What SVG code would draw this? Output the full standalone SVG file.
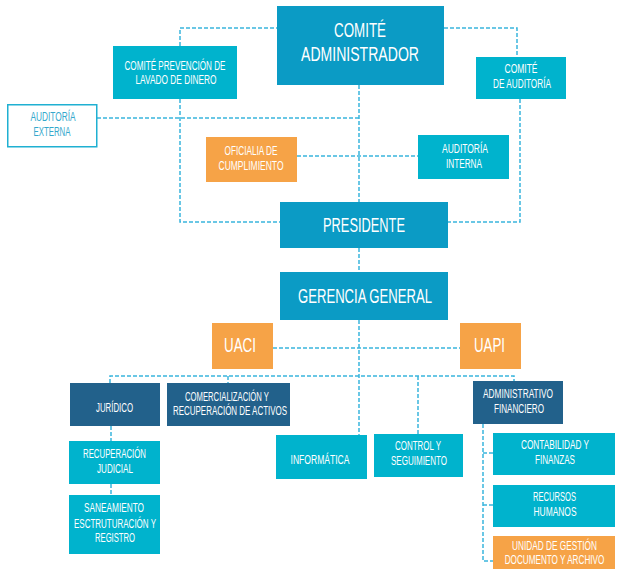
<svg xmlns="http://www.w3.org/2000/svg" width="620" height="570" viewBox="0 0 620 570">
<style>
text{font-family:"Liberation Sans",Arial,sans-serif;fill:#fff;text-anchor:middle;}
.s{font-size:12px;}
.b{font-size:20px;}
.main{fill:#0b9bc5;}
.teal{fill:#00b3cd;}
.org{fill:#f6a347;}
.dark{fill:#22618b;}
.c{fill:none;stroke:#3ab5dd;stroke-width:1.5;stroke-dasharray:4 2;}
</style>
<rect width="620" height="570" fill="#fff"/>
<g id="connectors">
<path class="c" d="M180 46V28H277"/>
<path class="c" d="M444 28H517V57"/>
<path class="c" d="M180 99V222H280"/>
<path class="c" d="M520 99V222H448"/>
<path class="c" d="M97 118H359"/>
<path class="c" d="M297 156H418"/>
<path class="c" d="M359 85V202M359 248V272M359 320V435"/>
<path class="c" d="M273 348H460"/>
<path class="c" d="M110 383V376H514V381"/>
<path class="c" d="M228 376V383M418 376V434"/>
<path class="c" d="M111 426V441M111 484V495"/>
<path class="c" d="M483 424V561H493M483 453H493M483 505H493"/>
</g>
<g id="comite-administrador"><rect class="main" x="277" y="6" width="167" height="79"/>
<text class="b" x="360" y="37" textLength="52" lengthAdjust="spacingAndGlyphs">COMITÉ</text>
<text class="b" x="360" y="61" textLength="118" lengthAdjust="spacingAndGlyphs">ADMINISTRADOR</text></g>
<g id="comite-prevencion"><rect class="teal" x="113" y="46" width="124" height="53"/>
<text class="s" x="175" y="70" textLength="101" lengthAdjust="spacingAndGlyphs">COMITÉ PREVENCIÓN DE</text>
<text class="s" x="176" y="84" textLength="81" lengthAdjust="spacingAndGlyphs">LAVADO DE DINERO</text></g>
<g id="comite-auditoria"><rect class="teal" x="476" y="57" width="90" height="42"/>
<text class="s" x="521" y="73" textLength="33" lengthAdjust="spacingAndGlyphs">COMITÉ</text>
<text class="s" x="522" y="88" textLength="58" lengthAdjust="spacingAndGlyphs">DE AUDITORÍA</text></g>
<g id="auditoria-externa"><rect x="7.75" y="104.75" width="89" height="42" fill="#fff" stroke="#1fb0d2" stroke-width="1.5"/>
<text class="s" x="53" y="121" textLength="45" lengthAdjust="spacingAndGlyphs" style="fill:#35a8cc">AUDITORÍA</text>
<text class="s" x="52" y="136" textLength="37" lengthAdjust="spacingAndGlyphs" style="fill:#35a8cc">EXTERNA</text></g>
<g id="oficialia"><rect class="org" x="206" y="137" width="91" height="45"/>
<text class="s" x="251" y="155" textLength="53" lengthAdjust="spacingAndGlyphs">OFICIALIA DE</text>
<text class="s" x="251" y="170" textLength="65" lengthAdjust="spacingAndGlyphs">CUMPLIMIENTO</text></g>
<g id="auditoria-interna"><rect class="teal" x="418" y="135" width="91" height="44"/>
<text class="s" x="465" y="153" textLength="46" lengthAdjust="spacingAndGlyphs">AUDITORÍA</text>
<text class="s" x="464" y="168" textLength="36" lengthAdjust="spacingAndGlyphs">INTERNA</text></g>
<g id="presidente"><rect class="main" x="280" y="202" width="168" height="46"/>
<text class="b" x="364" y="232" textLength="82" lengthAdjust="spacingAndGlyphs">PRESIDENTE</text></g>
<g id="gerencia-general"><rect class="main" x="280" y="272" width="168" height="48"/>
<text class="b" x="365" y="303" textLength="134" lengthAdjust="spacingAndGlyphs">GERENCIA GENERAL</text></g>
<g id="uaci"><rect class="org" x="212" y="323" width="61" height="46"/>
<text class="b" x="240" y="352" textLength="32" lengthAdjust="spacingAndGlyphs">UACI</text></g>
<g id="uapi"><rect class="org" x="460" y="323" width="61" height="46"/>
<text class="b" x="489.5" y="352" textLength="31" lengthAdjust="spacingAndGlyphs">UAPI</text></g>
<g id="juridico"><rect class="dark" x="70" y="383" width="90" height="43"/>
<text class="s" x="114.5" y="412" textLength="37" lengthAdjust="spacingAndGlyphs">JURÍDICO</text></g>
<g id="comercializacion"><rect class="dark" x="167" y="383" width="123" height="43"/>
<text class="s" x="227" y="401" textLength="84" lengthAdjust="spacingAndGlyphs">COMERCIALIZACIÓN Y</text>
<text class="s" x="230" y="415" textLength="114" lengthAdjust="spacingAndGlyphs">RECUPERACIÓN DE ACTIVOS</text></g>
<g id="administrativo-financiero"><rect class="dark" x="473" y="381" width="90" height="43"/>
<text class="s" x="518" y="398" textLength="70" lengthAdjust="spacingAndGlyphs">ADMINISTRATIVO</text>
<text class="s" x="519" y="413" textLength="50" lengthAdjust="spacingAndGlyphs">FINANCIERO</text></g>
<g id="recuperacion-judicial"><rect class="teal" x="69" y="441" width="91" height="43"/>
<text class="s" x="114.5" y="458" textLength="63" lengthAdjust="spacingAndGlyphs">RECUPERACIÓN</text>
<text class="s" x="115" y="473" textLength="36" lengthAdjust="spacingAndGlyphs">JUDICIAL</text></g>
<g id="saneamiento"><rect class="teal" x="69" y="495" width="91" height="59"/>
<text class="s" x="114" y="512" textLength="60" lengthAdjust="spacingAndGlyphs">SANEAMIENTO</text>
<text class="s" x="115" y="528" textLength="82" lengthAdjust="spacingAndGlyphs">ESCTRUTURACIÓN Y</text>
<text class="s" x="115" y="542" textLength="40" lengthAdjust="spacingAndGlyphs">REGISTRO</text></g>
<g id="informatica"><rect class="teal" x="276" y="435" width="91" height="44"/>
<text class="s" x="320" y="464" textLength="59" lengthAdjust="spacingAndGlyphs">INFORMÁTICA</text></g>
<g id="control-seguimiento"><rect class="teal" x="374" y="434" width="89" height="43"/>
<text class="s" x="418" y="450" textLength="46" lengthAdjust="spacingAndGlyphs">CONTROL Y</text>
<text class="s" x="419" y="465" textLength="56" lengthAdjust="spacingAndGlyphs">SEGUIMIENTO</text></g>
<g id="contabilidad"><rect class="teal" x="493" y="433" width="122" height="42"/>
<text class="s" x="555" y="449" textLength="68" lengthAdjust="spacingAndGlyphs">CONTABILIDAD Y</text>
<text class="s" x="555" y="464" textLength="40" lengthAdjust="spacingAndGlyphs">FINANZAS</text></g>
<g id="recursos-humanos"><rect class="teal" x="493" y="485" width="122" height="42"/>
<text class="s" x="554.5" y="501" textLength="43" lengthAdjust="spacingAndGlyphs">RECURSOS</text>
<text class="s" x="555" y="516" textLength="43" lengthAdjust="spacingAndGlyphs">HUMANOS</text></g>
<g id="unidad-gestion"><rect class="org" x="493" y="536" width="122" height="33"/>
<text class="s" transform="translate(554.5 550) scale(0.69 1)">UNIDAD DE GESTIÓN</text>
<text class="s" transform="translate(554.5 564) scale(0.68 1)">DOCUMENTO Y ARCHIVO</text></g>
</svg>
